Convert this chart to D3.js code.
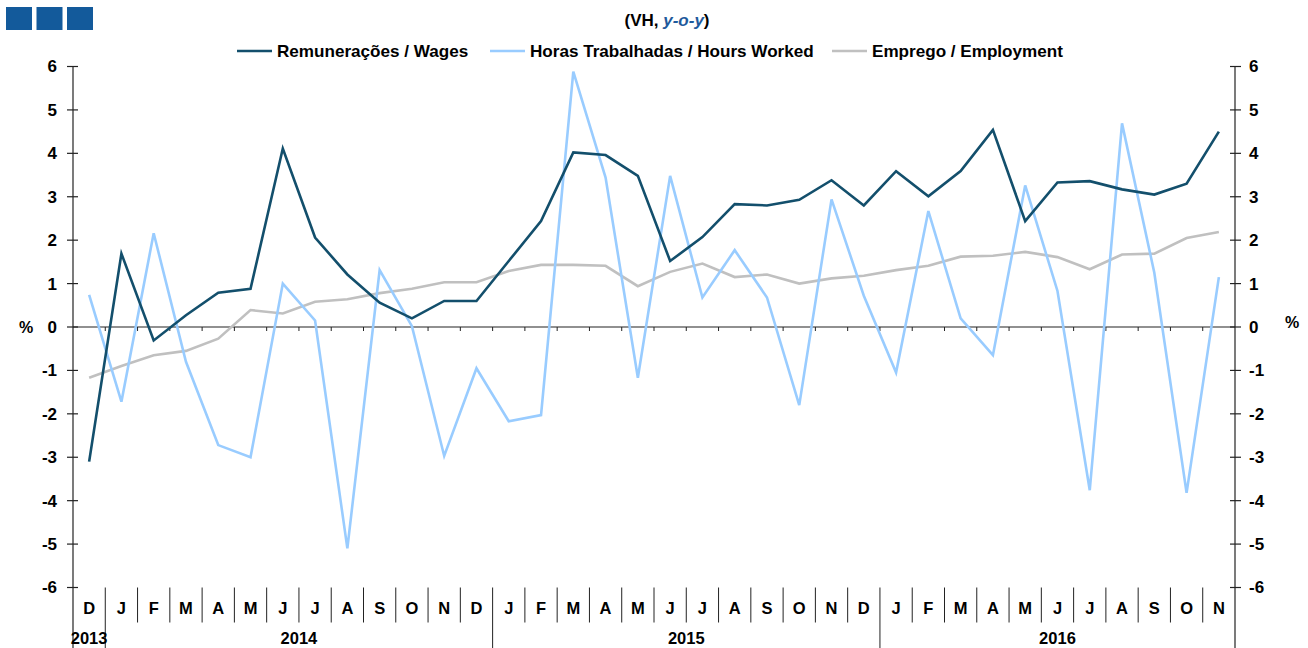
<!DOCTYPE html>
<html lang="pt">
<head>
    <meta charset="UTF-8">
    <title>Remunerações, Horas Trabalhadas e Emprego</title>
    <script src="https://d3js.org/d3.v7.min.js"></script>
    <style>
        body { margin: 0; background: #fff; }
        svg text { font-family: "Liberation Sans", Arial, sans-serif; }
    </style>
</head>
<body>
    <div id="chart"></div>
    <script>
        // Dec 2013 .. Nov 2016, year-on-year change (%)
        const months = ["D","J","F","M","A","M","J","J","A","S","O","N",
                        "D","J","F","M","A","M","J","J","A","S","O","N",
                        "D","J","F","M","A","M","J","J","A","S","O","N"];
        const years = ["2013", "2014", "2015", "2016"];
        const yearMonths = [1, 12, 12, 11];

        const wages = [-3.1, 1.69, -0.31, 0.27, 0.79, 0.88, 4.11, 2.06, 1.21, 0.56, 0.2, 0.6,
                       0.6, 1.52, 2.44, 4.02, 3.96, 3.48, 1.52, 2.07, 2.83, 2.8, 2.93, 3.38,
                       2.8, 3.59, 3.01, 3.59, 4.54, 2.44, 3.33, 3.36, 3.17, 3.05, 3.3, 4.5];
        const hours = [0.74, -1.72, 2.16, -0.8, -2.72, -3.0, 1.0, 0.15, -5.1, 1.31, 0.02, -2.97,
                       -0.95, -2.17, -2.03, 5.88, 3.44, -1.17, 3.48, 0.68, 1.77, 0.68, -1.8, 2.94,
                       0.72, -1.05, 2.67, 0.2, -0.65, 3.26, 0.83, -3.76, 4.69, 1.25, -3.82, 1.15];
        const employment = [-1.17, -0.9, -0.65, -0.55, -0.27, 0.39, 0.31, 0.58, 0.64, 0.78, 0.88, 1.03,
                            1.03, 1.29, 1.43, 1.43, 1.41, 0.94, 1.27, 1.46, 1.15, 1.21, 1.0, 1.12,
                            1.18, 1.31, 1.41, 1.62, 1.64, 1.73, 1.61, 1.33, 1.67, 1.69, 2.05, 2.19];
        const yTicks = [-6, -5, -4, -3, -2, -1, 0, 1, 2, 3, 4, 5, 6];

        const series = [
            {name: "Remunerações / Wages", values: wages, color: "#134f6c"},
            {name: "Horas Trabalhadas / Hours Worked", values: hours, color: "#99ccff"},
            {name: "Emprego / Employment", values: employment, color: "#c0c0c0"}
        ];

        const width = 1308, height = 648;
        const margin = {top: 66.5, right: 73, bottom: 60.5, left: 73};

        const svg = d3.select("#chart").append("svg")
            .attr("width", width)
            .attr("height", height);

        const x = d3.scaleBand()
            .domain(d3.range(months.length))
            .range([margin.left, width - margin.right]);

        const y = d3.scaleLinear()
            .domain([-6, 6])
            .range([height - margin.bottom, margin.top]);

        const xc = i => x(i) + x.bandwidth() / 2;

        // logo squares
        svg.append("g").selectAll("rect")
            .data([0, 1, 2])
            .enter().append("rect")
            .attr("x", d => 6 + d * 30.5)
            .attr("y", 7)
            .attr("width", 26)
            .attr("height", 23)
            .attr("fill", "#135a9b");

        // subtitle
        const sub = svg.append("text")
            .attr("x", 667)
            .attr("y", 26)
            .attr("text-anchor", "middle")
            .attr("font-size", 17)
            .attr("font-weight", "bold");
        sub.append("tspan").text("(VH, ");
        sub.append("tspan").attr("fill", "#1f5a9c").attr("font-style", "italic").text("y-o-y");
        sub.append("tspan").text(")");

        // legend
        const legendX = [237, 490, 832];
        const legend = svg.append("g").selectAll("g")
            .data(series)
            .enter().append("g")
            .attr("transform", (d, i) => `translate(${legendX[i]},51)`);
        legend.append("line")
            .attr("x1", 0).attr("x2", 35)
            .attr("stroke", d => d.color)
            .attr("stroke-width", 2.5);
        legend.append("text")
            .attr("x", 40)
            .attr("dy", "0.35em")
            .attr("font-size", 17.1)
            .attr("font-weight", "bold")
            .text(d => d.name);

        // left and right axes (lines run down to the bottom edge)
        const axisStroke = "#222";
        [margin.left, width - margin.right].forEach(ax => {
            svg.append("line")
                .attr("x1", ax).attr("x2", ax)
                .attr("y1", y(6)).attr("y2", height)
                .attr("stroke", axisStroke).attr("stroke-width", 1.2);
        });

        const tickG = svg.append("g");
        tickG.selectAll(".tl")
            .data(yTicks)
            .enter().append("line")
            .attr("x1", margin.left - 6).attr("x2", margin.left + 5)
            .attr("y1", d => y(d)).attr("y2", d => y(d))
            .attr("stroke", axisStroke).attr("stroke-width", 1.2);
        tickG.selectAll(".tr")
            .data(yTicks)
            .enter().append("line")
            .attr("x1", width - margin.right - 5).attr("x2", width - margin.right + 6)
            .attr("y1", d => y(d)).attr("y2", d => y(d))
            .attr("stroke", axisStroke).attr("stroke-width", 1.2);

        tickG.selectAll(".ll")
            .data(yTicks)
            .enter().append("text")
            .attr("x", margin.left - 16)
            .attr("y", d => y(d))
            .attr("dy", "0.35em")
            .attr("text-anchor", "end")
            .attr("font-size", 17)
            .attr("font-weight", "bold")
            .text(d => d);
        tickG.selectAll(".lr")
            .data(yTicks)
            .enter().append("text")
            .attr("x", width - margin.right + 14)
            .attr("y", d => y(d))
            .attr("dy", "0.35em")
            .attr("font-size", 17)
            .attr("font-weight", "bold")
            .text(d => d);

        svg.append("text")
            .attr("x", 19).attr("y", y(0)).attr("dy", "0.35em")
            .attr("font-size", 16).attr("font-weight", "bold").text("%");
        svg.append("text")
            .attr("x", 1285).attr("y", y(0) - 5).attr("dy", "0.35em")
            .attr("font-size", 16).attr("font-weight", "bold").text("%");

        // zero line with small ticks between months
        svg.append("line")
            .attr("x1", margin.left).attr("x2", width - margin.right)
            .attr("y1", y(0)).attr("y2", y(0))
            .attr("stroke", axisStroke).attr("stroke-width", 1.2);
        svg.append("g").selectAll("line")
            .data(d3.range(1, months.length))
            .enter().append("line")
            .attr("x1", d => x(d)).attr("x2", d => x(d))
            .attr("y1", y(0)).attr("y2", y(0) + 4)
            .attr("stroke", axisStroke).attr("stroke-width", 1);

        // category axis at bottom
        const yearStarts = d3.cumsum([0].concat(yearMonths)).slice(0, years.length);
        const isYearStart = i => yearStarts.includes(i);
        const base = y(-6);
        svg.append("g").selectAll("line")
            .data(d3.range(1, months.length))
            .enter().append("line")
            .attr("x1", d => x(d)).attr("x2", d => x(d))
            .attr("y1", base)
            .attr("y2", d => isYearStart(d) ? height : base + 35)
            .attr("stroke", axisStroke).attr("stroke-width", 1);

        svg.append("g").selectAll("text")
            .data(months)
            .enter().append("text")
            .attr("x", (d, i) => xc(i))
            .attr("y", 614)
            .attr("text-anchor", "middle")
            .attr("font-size", 16.5)
            .attr("font-weight", "bold")
            .text(d => d);

        svg.append("g").selectAll("text")
            .data(years)
            .enter().append("text")
            .attr("x", (d, i) => (x(yearStarts[i]) + x(yearStarts[i] + yearMonths[i] - 1) + x.bandwidth()) / 2)
            .attr("y", 644)
            .attr("text-anchor", "middle")
            .attr("font-size", 16.5)
            .attr("font-weight", "bold")
            .text(d => d);

        // series lines
        const line = d3.line()
            .x((d, i) => xc(i))
            .y(d => y(d));

        svg.append("g").selectAll("path")
            .data(series.slice().reverse())
            .enter().append("path")
            .attr("d", d => line(d.values))
            .attr("fill", "none")
            .attr("stroke", d => d.color)
            .attr("stroke-width", 2.6)
            .attr("stroke-linejoin", "miter");
    </script>
</body>
</html>
